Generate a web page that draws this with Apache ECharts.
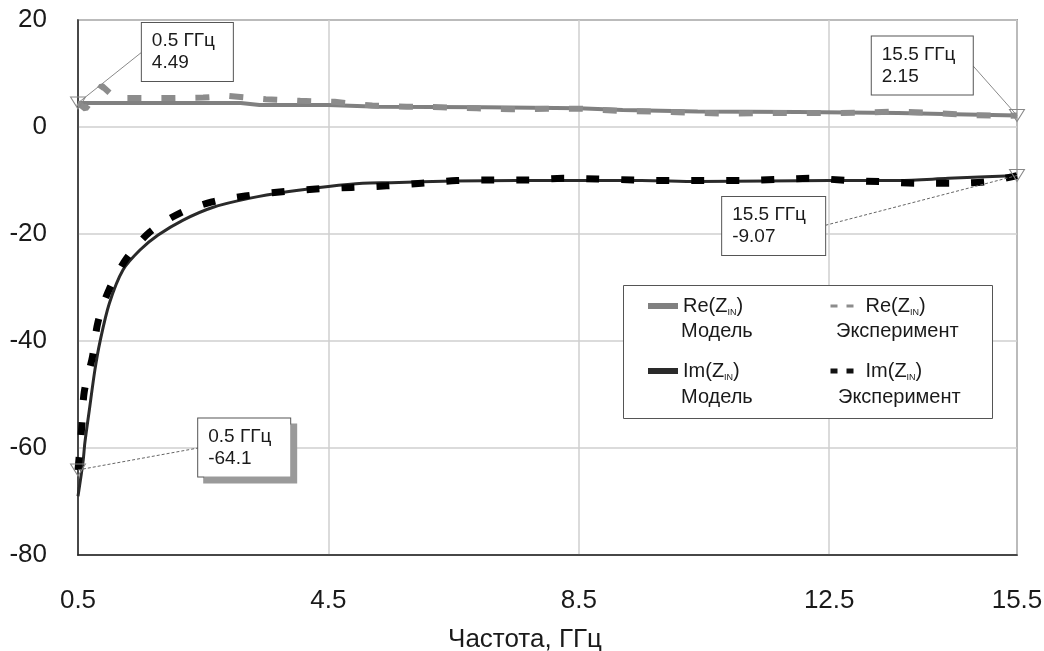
<!DOCTYPE html>
<html>
<head>
<meta charset="utf-8">
<script src="https://cdn.jsdelivr.net/npm/echarts@6/dist/echarts.min.js"></script>
<style>
  html, body { margin: 0; background: #fff; }
  #chart { width: 1044px; height: 651px; }
</style>
</head>
<body>
<div id="chart"></div>
<script>
// x ticks (GHz)
const xTicks = [0.5, 4.5, 8.5, 12.5, 15.5];

// Re(Z_IN), model
const reModelFreq = [0.5, 3.1, 3.4, 4.5, 5.3, 7.0, 8.5, 9.2, 10.4, 12.0, 13.6, 14.5, 15.5];
const reModel = [4.49, 4.49, 4.1, 4.1, 3.8, 3.7, 3.5, 3.2, 2.9, 2.8, 2.6, 2.4, 2.15];

// Re(Z_IN), experiment
const reExpFreq = [0.5, 0.62, 0.88, 1.1, 1.5, 2.0, 2.5, 2.9, 3.5, 4.05, 4.6, 5.2, 5.75, 6.3, 6.87, 7.43,
  7.99, 8.55, 9.13, 9.7, 10.24, 10.8, 11.4, 11.95, 12.5, 13.07, 13.63, 14.2, 14.8, 15.3, 15.5];
const reExp = [4.49, 3.4, 7.7, 5.4, 5.4, 5.4, 5.5, 5.8, 5.2, 4.9, 4.7, 4.0, 3.8, 3.7, 3.5, 3.3,
  3.4, 3.4, 3.0, 2.9, 2.7, 2.5, 2.6, 2.6, 2.6, 2.7, 2.9, 2.6, 2.2, 2.1, 2.15];

// Im(Z_IN), model
const imModelFreq = [0.5, 0.58, 0.61, 0.68, 0.77, 0.85, 1.0, 1.22, 1.49, 1.78, 2.18, 2.66, 3.25, 3.84,
  4.5, 5.05, 5.5, 6.5, 7.5, 8.5, 9.5, 10.4, 11.5, 12.5, 13.6, 14.4, 15.0, 15.5];
const imModel = [-69, -62.6, -59, -53, -45.4, -40.2, -33, -26.7, -23, -20.2, -17.4, -15, -13.3, -12.1,
  -11.1, -10.5, -10.4, -10.1, -10.0, -10.0, -10.0, -10.2, -10.1, -10.0, -10.0, -9.6, -9.3, -9.07];

// Im(Z_IN), experiment
const imExpFreq = [0.5, 0.56, 0.6, 0.73, 0.82, 1.0, 1.28, 1.65, 2.13, 2.64, 3.17, 3.76, 4.3, 4.87,
  5.43, 5.99, 6.55, 7.13, 7.69, 8.25, 8.8, 9.37, 9.95, 10.5, 11.1, 11.66, 12.2, 12.8, 13.3, 13.9,
  14.5, 15.04, 15.5];
const imExp = [-64.1, -56, -49.5, -43, -36.4, -30.3, -24.5, -19.6, -16.1, -14.0, -12.9, -12.1, -11.6, -11.3,
  -11.0, -10.5, -10.0, -9.9, -9.9, -9.6, -9.7, -9.9, -10.0, -10.0, -10.0, -9.8, -9.6, -10.0, -10.2, -10.5,
  -10.5, -10.2, -9.07];

const FONT = "'Liberation Sans', Arial, sans-serif";

function pairs(xs, ys) {
  return xs.map((x, i) => [x, ys[i]]);
}

function tri(coord) {
  return {
    coord: coord,
    symbol: 'triangle',
    symbolRotate: 180,
    symbolSize: [15, 12],
    itemStyle: { color: 'rgba(255,255,255,0)', borderColor: '#888', borderWidth: 1 },
    label: { show: false }
  };
}

// annotation box, anchored at its left-middle point
function box(coord, text, width, shadow) {
  return {
    coord: coord,
    symbol: 'circle',
    symbolSize: 0,
    label: {
      show: true,
      position: 'right',
      distance: 0,
      formatter: text,
      fontFamily: FONT,
      fontSize: 19,
      lineHeight: 22,
      color: '#1a1a1a',
      backgroundColor: '#fff',
      borderColor: '#555',
      borderWidth: 1,
      padding: [7, 10],
      width: width,
      shadowColor: shadow ? '#9a9a9a' : 'transparent',
      shadowOffsetX: shadow ? 6 : 0,
      shadowOffsetY: shadow ? 6 : 0,
      shadowBlur: 0
    }
  };
}

const legendText = {
  'Re Модель': '{a|Re(Z}{s|IN}{a|)}',
  'Re Эксперимент': '{a|Re(Z}{s|IN}{a|)}',
  'Im Модель': '{a|Im(Z}{s|IN}{a|)}',
  'Im Эксперимент': '{a|Im(Z}{s|IN}{a|)}'
};

const legendTextStyle = {
  fontFamily: FONT,
  fontSize: 20,
  color: '#1a1a1a',
  rich: {
    a: { fontFamily: FONT, fontSize: 20, color: '#1a1a1a', lineHeight: 22 },
    s: { fontFamily: FONT, fontSize: 9, color: '#1a1a1a', lineHeight: 22, verticalAlign: 'bottom', padding: [10, 0, 0, 0] }
  }
};

function legendCol(left, items) {
  return {
    left: left,
    top: 296,
    orient: 'vertical',
    itemWidth: 30,
    itemHeight: 14,
    itemGap: 44,
    padding: 0,
    z: 6,
    selectedMode: false,
    itemStyle: { opacity: 0 },
    formatter: name => legendText[name],
    textStyle: legendTextStyle,
    data: items
  };
}

const chart = echarts.init(document.getElementById('chart'));

const option = {
  animation: false,
  backgroundColor: '#fff',
  grid: {
    left: 78, right: 27, top: 20, bottom: 96,
    outerBoundsMode: 'none',
    containLabel: false,
    show: true, borderColor: '#555', borderWidth: 1.5
  },
  xAxis: {
    type: 'value',
    min: 0.5,
    max: 15.5,
    name: 'Частота, ГГц',
    nameLocation: 'middle',
    nameGap: 72,
    nameTextStyle: { fontFamily: FONT, fontSize: 26, color: '#1a1a1a', padding: [0, 45, 0, 0] },
    axisLine: { show: true, onZero: false, lineStyle: { color: '#222', width: 1.5 } },
    axisTick: { show: false, customValues: xTicks },
    axisLabel: {
      customValues: xTicks,
      margin: 33,
      fontFamily: FONT,
      fontSize: 26,
      color: '#1a1a1a',
      formatter: v => String(v)
    },
    splitLine: { show: true, lineStyle: { color: '#cfcfcf', width: 1.5 } }
  },
  yAxis: {
    type: 'value',
    min: -80,
    max: 20,
    interval: 20,
    axisLine: { show: true, onZero: false, lineStyle: { color: '#222', width: 1.5 } },
    axisTick: { show: false },
    axisLabel: { margin: 31, fontFamily: FONT, fontSize: 26, color: '#1a1a1a', padding: [10, 0, 0, 0] },
    splitLine: { show: true, lineStyle: { color: '#cfcfcf', width: 1.5 } }
  },
  legend: [
    legendCol(645, [
      { name: 'Re Модель', lineStyle: { color: '#808080', width: 6, type: 'solid' } },
      { name: 'Im Модель', lineStyle: { color: '#2a2a2a', width: 6, type: 'solid' } }
    ]),
    legendCol(828, [
      { name: 'Re Эксперимент', lineStyle: { color: '#8c8c8c', width: 3, type: [7, 9] } },
      { name: 'Im Эксперимент', lineStyle: { color: '#111', width: 5, type: [7, 9] } }
    ])
  ],
  graphic: [
    {
      type: 'rect', left: 623, top: 285, z: 5,
      shape: { width: 369, height: 133 },
      style: { fill: '#fff', stroke: '#555', lineWidth: 1 }
    },
    { type: 'text', left: 681, top: 321, z: 7, style: { text: 'Модель', font: '20px ' + FONT, fill: '#1a1a1a' } },
    { type: 'text', left: 836, top: 321, z: 7, style: { text: 'Эксперимент', font: '20px ' + FONT, fill: '#1a1a1a' } },
    { type: 'text', left: 681, top: 387, z: 7, style: { text: 'Модель', font: '20px ' + FONT, fill: '#1a1a1a' } },
    { type: 'text', left: 838, top: 387, z: 7, style: { text: 'Эксперимент', font: '20px ' + FONT, fill: '#1a1a1a' } }
  ],
  series: [
    {
      name: 'Re Модель',
      type: 'line',
      data: pairs(reModelFreq, reModel),
      symbol: 'none',
      lineStyle: { color: '#808080', width: 4 },
      itemStyle: { color: '#808080' },
      z: 3,
      markLine: {
        silent: true,
        symbol: ['none', 'none'],
        label: { show: false },
        lineStyle: { color: '#8a8a8a', width: 1, type: 'solid' },
        data: [
          [{ coord: [0.5, 4.49] }, { coord: [1.52, 14.0] }],
          [{ coord: [15.5, 2.15] }, { coord: [14.8, 11.4] }]
        ]
      },
      markPoint: {
        silent: true,
        label: { show: false },
        data: [
          tri([0.5, 4.49]),
          tri([15.5, 2.15]),
          box([1.52, 14.0], '0.5 ГГц\n4.49', 71, false),
          box([13.18, 11.5], '15.5 ГГц\n2.15', 81, false)
        ]
      }
    },
    {
      name: 'Im Модель',
      type: 'line',
      data: pairs(imModelFreq, imModel),
      symbol: 'none',
      smooth: 0.3,
      lineStyle: { color: '#2a2a2a', width: 3 },
      itemStyle: { color: '#2a2a2a' },
      z: 3,
      markLine: {
        silent: true,
        symbol: ['none', 'none'],
        label: { show: false },
        lineStyle: { color: '#666', width: 1, type: [3, 2] },
        data: [
          [{ coord: [0.5, -64.1] }, { coord: [2.42, -60.0] }],
          [{ coord: [15.5, -9.07] }, { coord: [12.43, -18.4] }]
        ]
      },
      markPoint: {
        silent: true,
        label: { show: false },
        data: [
          tri([0.5, -64.1]),
          tri([15.5, -9.07]),
          box([2.42, -59.9], '0.5 ГГц\n-64.1', 72, true),
          box([10.79, -18.5], '15.5 ГГц\n-9.07', 83, false)
        ]
      }
    },
    {
      name: 'Re Эксперимент',
      type: 'line',
      data: pairs(reExpFreq, reExp),
      symbol: 'none',
      lineStyle: { color: '#8c8c8c', width: 6, type: [14, 20] },
      itemStyle: { color: '#8c8c8c' },
      z: 4
    },
    {
      name: 'Im Эксперимент',
      type: 'line',
      data: pairs(imExpFreq, imExp),
      symbol: 'none',
      smooth: 0.3,
      lineStyle: { color: '#000', width: 7, type: [13, 22] },
      itemStyle: { color: '#000' },
      z: 4
    }
  ]
};

chart.setOption(option);
</script>
</body>
</html>
